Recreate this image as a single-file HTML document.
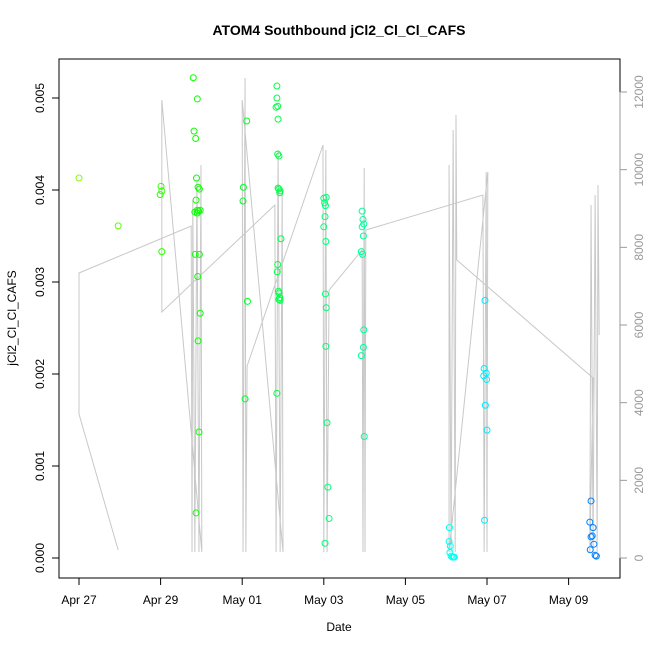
<!DOCTYPE html>
<html><head><meta charset="utf-8"><style>
body{margin:0;background:#fff}
svg{font-family:"Liberation Sans",sans-serif}
</style></head><body>
<svg id="chart" width="650" height="650" xmlns="http://www.w3.org/2000/svg">
<text x="339" y="35" text-anchor="middle" font-size="14" font-weight="bold">ATOM4 Southbound jCl2_Cl_Cl_CAFS</text>
<rect x="59" y="59" width="561" height="519" fill="none" stroke="#000"/>
<g id="grey"></g>
<g id="pts"></g>
<g id="axes"></g>
<text x="339" y="631" text-anchor="middle" font-size="12">Date</text>
<text transform="translate(16,318) rotate(-90)" text-anchor="middle" font-size="12">jCl2_Cl_Cl_CAFS</text>
</svg>
<script>
// x: days since Apr 27
const xTickLabels=["Apr 27","Apr 29","May 01","May 03","May 05","May 07","May 09"];
const xTickDays=[0,2,4,6,8,10,12];
const yTicks=[0,0.001,0.002,0.003,0.004,0.005];
const yTickLabels=["0.000","0.001","0.002","0.003","0.004","0.005"];
const y2Ticks=[0,2000,4000,6000,8000,10000,12000];
const pointDays=[0,0.96,2.01,2.03,1.99,2.03,
2.8,2.9,2.82,2.86,2.88,2.92,2.95,2.87,2.9,2.84,2.93,2.9,2.97,2.95,2.85,2.91,2.97,2.92,2.94,2.87,
4.03,4.02,4.11,4.13,4.07,
4.85,4.85,4.87,4.83,4.88,4.9,4.87,4.88,4.9,4.92,4.93,4.95,4.87,4.86,4.89,4.9,4.92,4.9,4.93,4.85,
6.0,6.02,6.03,6.0,6.05,6.04,6.06,6.05,6.08,6.1,6.13,6.03,6.06,6.04,
6.94,6.96,6.98,6.94,6.97,6.92,6.95,6.98,6.92,6.97,6.99,
9.08,9.07,9.1,9.09,9.12,9.15,9.18,9.2,
9.95,9.93,9.98,9.92,9.99,9.96,10.0,9.94,
12.55,12.52,12.6,12.58,12.55,12.62,12.53,12.65,12.68];
const pointVals=[0.00413,0.00361,0.00404,0.00399,0.00395,0.00333,
0.00522,0.00499,0.00464,0.00456,0.00413,0.00403,0.00401,0.00389,0.00378,0.00376,0.00377,0.00375,0.00378,0.00330,0.00330,0.00306,0.00266,0.00236,0.00137,0.00049,
0.00403,0.00388,0.00475,0.00279,0.00173,
0.00513,0.00500,0.00491,0.00490,0.00477,0.00437,0.00439,0.00402,0.00401,0.00397,0.00399,0.00347,0.00319,0.00311,0.00290,0.00288,0.00283,0.00281,0.00280,0.00179,
0.00391,0.00386,0.00371,0.00360,0.00344,0.00287,0.00272,0.00230,0.00147,0.00077,0.00043,0.00016,0.00392,0.00383,
0.00377,0.00368,0.00363,0.00360,0.00350,0.00333,0.00330,0.00248,0.00220,0.00229,0.00132,
0.00033,0.00018,0.00013,0.00006,0.00002,0.00001,0.00001,0.00001,
0.00280,0.00206,0.00201,0.00198,0.00194,0.00166,0.00139,0.00041,
0.00062,0.00039,0.00033,0.00024,0.00023,0.00015,0.00009,0.00003,0.00002];
const greyDays=[0.96,0,0,2.75,2.77,2.79,2.84,2.89,2.94,2.99,3.01,2.03,2.03,4.80,4.83,4.88,4.93,4.98,5.0,4.0,4.02,4.07,4.09,4.12,5.98,6.0,6.05,6.08,6.13,6.94,6.96,6.99,7.01,7.03,9.9,9.93,9.98,10.0,10.02,9.07,9.07,9.12,9.17,9.22,9.24,9.26,12.6,12.52,12.55,12.6,12.65,12.7,12.72,12.75];
const greyVals=[206,3708,7339,8549,155,9219,155,9734,155,10120,155,11794,6335,9090,155,10506,155,9476,155,11794,155,12360,155,4944,10635,155,10506,155,6901,7931,155,10043,155,8446,9347,155,9940,155,9940,155,10120,155,11021,155,11408,7674,4635,155,9090,155,9347,155,9605,5742];

const X=d=>79+d*40.8;
const Y=v=>558-v*92000;
const Y2=v=>558-v*466/12000;
const NS="http://www.w3.org/2000/svg";
function mk(tag,attrs,parent){const e=document.createElementNS(NS,tag);for(const k in attrs)e.setAttribute(k,attrs[k]);parent.appendChild(e);return e;}
const grey=document.getElementById('grey');
const pl=mk('polyline',{points:greyDays.map((d,i)=>X(d)+','+Y2(greyVals[i])).join(' '),fill:'none',stroke:'#c8c8c8','stroke-width':1},grey);


const pts=document.getElementById('pts');
pointDays.forEach((d,i)=>{
  const h=90+d*9.5;
  const c=mk('circle',{cx:X(d),cy:Y(pointVals[i]),r:3,fill:'none',stroke:'hsl('+h+',100%,50%)','stroke-width':1},pts);
  
  
});
const ax=document.getElementById('axes');
mk('line',{x1:X(0),x2:X(12),y1:578,y2:578,stroke:'#000'},ax);
xTickDays.forEach((d,i)=>{
  mk('line',{x1:X(d),x2:X(d),y1:578,y2:585,stroke:'#000'},ax);
  const t=mk('text',{x:X(d),y:604,'text-anchor':'middle','font-size':12},ax);t.textContent=xTickLabels[i];
  
  
});
mk('line',{x1:59,x2:59,y1:Y(0),y2:Y(0.005),stroke:'#000'},ax);
yTicks.forEach((v,i)=>{
  mk('line',{x1:52,x2:59,y1:Y(v),y2:Y(v),stroke:'#000'},ax);
  const t=mk('text',{transform:'translate(44,'+Y(v)+') rotate(-90)','text-anchor':'middle','font-size':12},ax);t.textContent=yTickLabels[i];
  
  
});
mk('line',{x1:620,x2:620,y1:Y2(0),y2:Y2(12000),stroke:'#999'},ax);
y2Ticks.forEach(v=>{
  mk('line',{x1:620,x2:627,y1:Y2(v),y2:Y2(v),stroke:'#999'},ax);
  const t=mk('text',{transform:'translate(643,'+Y2(v)+') rotate(-90)','text-anchor':'middle','font-size':12,fill:'#999'},ax);t.textContent=String(v);
  
  
});
</script>
</body></html>
